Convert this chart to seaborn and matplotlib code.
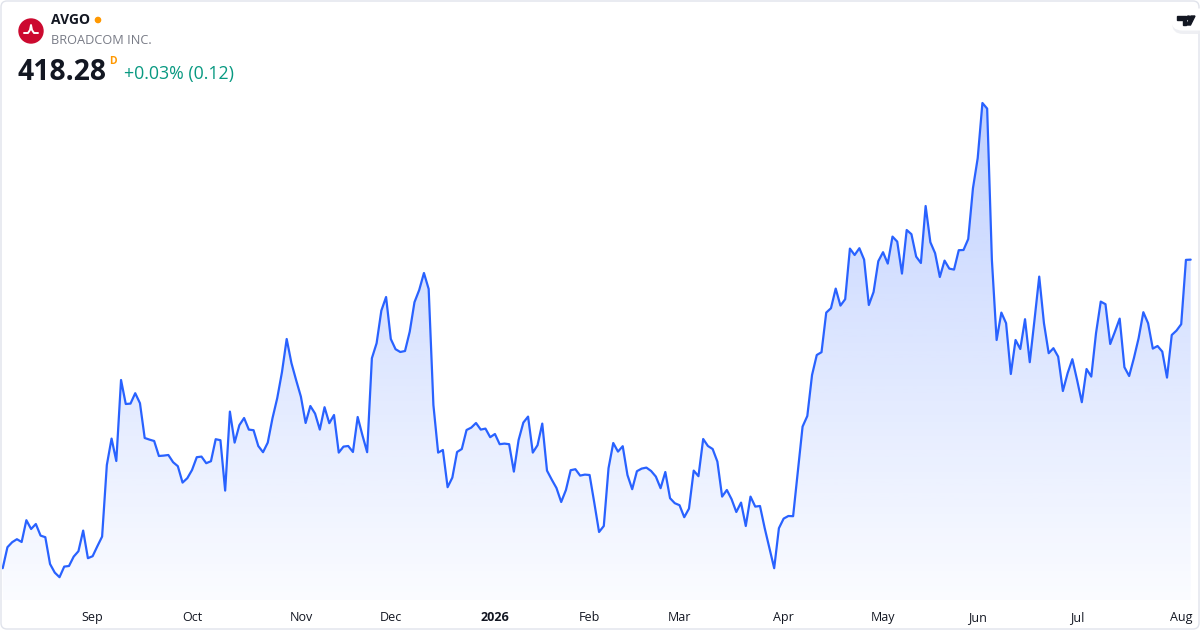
import numpy as np
import pandas as pd
import matplotlib
matplotlib.use("Agg")
import matplotlib.pyplot as plt
import seaborn as sns
from matplotlib.colors import to_rgb
from matplotlib.patches import Circle, FancyBboxPatch, Polygon

TICKER = "AVGO"
COMPANY = "BROADCOM INC."
LAST_PRICE = "418.28"
CHANGE = "+0.03% (0.12)"

# trading calendar (NYSE) for the year shown
START = "2025-08-05"
END = "2026-08-05"
HOLIDAYS = ["2025-09-01", "2025-11-27", "2025-12-25", "2026-01-01", "2026-01-19",
            "2026-02-16", "2026-04-03", "2026-05-25", "2026-06-19", "2026-07-03"]

# daily closes
close_aug25 = [264.0, 274.5, 277.0, 278.5, 277.1, 288.0, 283.6, 286.1, 280.3, 279.5,
               266.1, 261.8, 259.5, 264.8, 265.1, 269.8, 272.5, 282.8, 269.0]
close_sep = [270.0, 275.0, 279.8, 315.6, 328.8, 317.6, 358.1, 346.1, 346.3, 351.5,
             346.5, 329.1, 328.3, 327.6, 320.1, 320.3, 320.6, 317.0, 315.0, 306.8, 309.0]
close_oct = [313.1, 319.5, 319.8, 316.5, 317.5, 328.5, 328.0, 302.8, 342.3, 326.8,
             335.5, 339.1, 333.3, 333.0, 325.1, 322.0, 326.8, 339.0, 349.0, 362.0,
             378.6, 366.6, 358.0]
close_nov = [349.8, 336.6, 345.1, 341.3, 333.3, 344.5, 336.5, 340.6, 321.8, 324.8,
             325.1, 322.1, 339.6, 330.5, 322.0, 369.0, 376.5, 392.8, 399.6]
close_dec = [378.6, 373.5, 372.1, 372.6, 382.3, 397.0, 403.1, 411.6, 403.6, 345.6,
             321.8, 323.1, 304.5, 309.3, 322.1, 323.6, 333.1, 334.3, 336.6, 333.3,
             333.8, 329.5]
close_jan = [331.1, 326.0, 326.3, 326.0, 312.3, 328.1, 336.8, 339.8, 321.8, 325.5,
             336.3, 312.8, 308.3, 304.1, 297.1, 303.1, 313.0, 313.5, 310.3, 310.8]
close_feb = [310.6, 296.6, 282.1, 285.1, 314.0, 326.6, 322.3, 325.0, 310.6, 303.5,
             312.5, 313.8, 314.3, 312.6, 309.8, 304.0, 312.1, 299.0, 296.5]
close_mar = [295.5, 289.5, 293.8, 312.8, 310.0, 328.6, 325.1, 323.6, 317.3, 299.8,
             303.1, 298.5, 292.1, 296.8, 285.1, 299.8, 294.8, 295.1, 284.0, 274.0,
             264.0, 284.0]
close_apr = [288.8, 290.1, 290.0, 312.3, 334.8, 340.1, 360.6, 370.6, 372.0, 391.8,
             394.0, 403.8, 395.3, 398.5, 423.8, 420.6, 424.0, 418.3, 395.6, 402.1, 417.5]
close_may = [422.0, 416.3, 429.8, 427.3, 411.3, 433.1, 431.0, 419.8, 416.6, 445.1,
             427.0, 421.5, 409.6, 417.8, 413.8, 413.3, 423.0, 423.1, 428.6, 454.0]
close_jun = [469.0, 496.6, 493.8, 418.1, 378.1, 391.8, 386.5, 361.1, 378.1, 373.6,
             388.5, 367.0, 388.1, 409.8, 386.5, 371.5, 374.0, 369.8, 352.6, 361.5, 368.5]
close_jul = [358.1, 347.0, 363.6, 359.8, 381.5, 397.3, 396.0, 376.1, 382.3, 388.8,
             364.5, 360.1, 369.0, 379.0, 392.0, 386.5, 373.8, 375.1, 372.3, 359.3,
             380.6, 382.8]
close_aug26 = [386.0, 418.16, 418.28]

LINE = "#2962FF"
TEXT = "#131722"
GREY = "#787B86"
GREEN = "#089981"
ORANGE = "#FF9800"

dates = pd.bdate_range(START, END, freq="C", holidays=HOLIDAYS)
close = (close_aug25 + close_sep + close_oct + close_nov + close_dec + close_jan + close_feb
         + close_mar + close_apr + close_may + close_jun + close_jul + close_aug26)
df = pd.DataFrame({"date": dates, "close": close})
df["i"] = np.arange(len(df))

sns.set_theme(style="white")
plt.rcParams["font.family"] = ["Open Sans", "DejaVu Sans"]

fig = plt.figure(figsize=(12, 6.3), dpi=100)
ax = fig.add_axes([2 / 1200, 30 / 630, 1190 / 1200, 510 / 630])

sns.lineplot(data=df, x="i", y="close", ax=ax, color=LINE, linewidth=1.6, zorder=3)

xlim = (-0.15, len(df) - 1 + 0.28)
ylim = (248.1, 503.1)

# vertical gradient under the line
poly = ax.fill_between(df["i"], df["close"], ylim[0], color="none", linewidth=0)
grad = np.zeros((256, 1, 4))
grad[..., :3] = to_rgb(LINE)
grad[:, 0, 3] = np.linspace(0.30, 0.02, 256)
im = ax.imshow(grad, aspect="auto", origin="upper", zorder=1,
               extent=[xlim[0], xlim[1], ylim[0], ylim[1]])
im.set_clip_path(poly.get_paths()[0], transform=ax.transData)

ax.set_xlim(*xlim)
ax.set_ylim(*ylim)

# month ticks on first trading day of each month
first = df[df["date"].dt.month != df["date"].shift().dt.month].iloc[1:]
labels = [str(d.year) if d.month == 1 else d.strftime("%b") for d in first["date"]]
ax.set_xticks(first["i"])
ax.set_xticklabels(labels, fontsize=9, color=TEXT)
for lab, d in zip(ax.get_xticklabels(), first["date"]):
    if d.month == 1:
        lab.set_fontweight("bold")
ax.tick_params(axis="x", length=0, pad=8)
ax.set_yticks([])
ax.set_xlabel("")
ax.set_ylabel("")
for s in ax.spines.values():
    s.set_visible(False)
ax.set_facecolor("none")

# background card
ov = fig.add_axes([0, 0, 1, 1], zorder=-1)
ov.set_xlim(0, 1200)
ov.set_ylim(630, 0)
ov.axis("off")
ov.add_patch(FancyBboxPatch((1, 1), 1198, 628, boxstyle="round,pad=0,rounding_size=6",
                            fc="white", ec="#E0E3EB", lw=1))

# header in pixel coordinates
top = fig.add_axes([0, 0, 1, 1], zorder=5)
top.set_xlim(0, 1200)
top.set_ylim(630, 0)
top.axis("off")
top.add_patch(Circle((31, 31), 12, color="#CC092F"))
top.plot([24, 28, 30, 31, 32, 34, 38], [33, 33, 30, 25, 30, 33, 33], color="white", lw=1.4)
top.text(51, 20, TICKER, fontsize=10, fontweight="bold", color=TEXT, va="center")
top.add_patch(Circle((98, 20), 2.6, color=ORANGE))
top.text(51, 40, COMPANY, fontsize=9.2, color=GREY, va="center")
top.text(17, 72, LAST_PRICE, fontsize=20.3, fontweight="bold", color=TEXT, va="center")
top.text(109, 61, "D", fontsize=7.5, fontweight="bold", color=ORANGE, va="center")
top.text(124, 74, CHANGE, fontsize=12.8, color=GREEN, va="center")

# TradingView badge
top.add_patch(FancyBboxPatch((1172, 10), 40, 24, boxstyle="round,pad=0,rounding_size=11",
                             fc="#EDEEF2", ec="none", alpha=0.9))
top.add_patch(FancyBboxPatch((1171, 8.5), 40, 22, boxstyle="round,pad=0,rounding_size=11",
                             fc="white", ec="none"))
top.add_patch(Polygon([(1177, 16), (1186, 16), (1186, 25), (1182.5, 25), (1182.5, 19.5),
                       (1177, 19.5)], color=TEXT))
top.add_patch(Circle((1188.5, 17.8), 1.8, color=TEXT))
top.add_patch(Polygon([(1191, 16), (1195, 16), (1190.5, 25), (1186.5, 25)], color=TEXT))

fig.savefig("out.png", dpi=100)
